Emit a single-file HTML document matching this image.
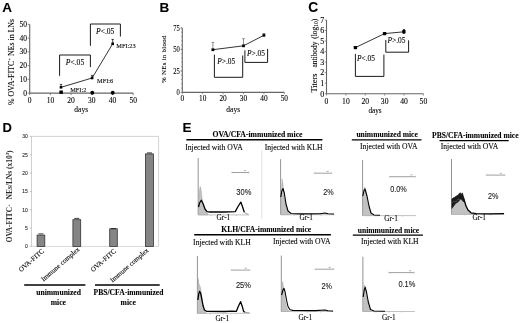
<!DOCTYPE html>
<html><head><meta charset="utf-8"><style>
html,body{margin:0;padding:0;background:#fff;}
svg{display:block;will-change:transform;}
text{stroke:#000;stroke-width:0.15px;stroke-opacity:0.6;}
</style></head><body>
<svg width="520" height="323" viewBox="0 0 520 323">
<rect width="520" height="323" fill="#fff"/>
<text x="2.20" y="12.20" font-family="&quot;Liberation Sans&quot;, sans-serif" font-size="13.5" text-anchor="start" fill="#000" font-weight="bold">A</text>
<line x1="29.70" y1="93.60" x2="29.70" y2="24.30" stroke="#666" stroke-width="1.1"/>
<line x1="29.70" y1="93.10" x2="133.20" y2="93.10" stroke="#666" stroke-width="1.1"/>
<line x1="27.70" y1="93.10" x2="29.70" y2="93.10" stroke="#666" stroke-width="0.8"/>
<text x="27.00" y="95.70" font-family="&quot;Liberation Serif&quot;, serif" font-size="7.5" text-anchor="end" fill="#000">0</text>
<line x1="29.70" y1="93.10" x2="29.70" y2="95.10" stroke="#666" stroke-width="0.8"/>
<text x="29.70" y="102.90" font-family="&quot;Liberation Serif&quot;, serif" font-size="7.5" text-anchor="middle" fill="#000">0</text>
<line x1="27.70" y1="79.34" x2="29.70" y2="79.34" stroke="#666" stroke-width="0.8"/>
<text x="27.00" y="81.94" font-family="&quot;Liberation Serif&quot;, serif" font-size="7.5" text-anchor="end" fill="#000">10</text>
<line x1="50.40" y1="93.10" x2="50.40" y2="95.10" stroke="#666" stroke-width="0.8"/>
<text x="50.40" y="102.90" font-family="&quot;Liberation Serif&quot;, serif" font-size="7.5" text-anchor="middle" fill="#000">10</text>
<line x1="27.70" y1="65.58" x2="29.70" y2="65.58" stroke="#666" stroke-width="0.8"/>
<text x="27.00" y="68.18" font-family="&quot;Liberation Serif&quot;, serif" font-size="7.5" text-anchor="end" fill="#000">20</text>
<line x1="71.10" y1="93.10" x2="71.10" y2="95.10" stroke="#666" stroke-width="0.8"/>
<text x="71.10" y="102.90" font-family="&quot;Liberation Serif&quot;, serif" font-size="7.5" text-anchor="middle" fill="#000">20</text>
<line x1="27.70" y1="51.82" x2="29.70" y2="51.82" stroke="#666" stroke-width="0.8"/>
<text x="27.00" y="54.42" font-family="&quot;Liberation Serif&quot;, serif" font-size="7.5" text-anchor="end" fill="#000">30</text>
<line x1="91.80" y1="93.10" x2="91.80" y2="95.10" stroke="#666" stroke-width="0.8"/>
<text x="91.80" y="102.90" font-family="&quot;Liberation Serif&quot;, serif" font-size="7.5" text-anchor="middle" fill="#000">30</text>
<line x1="27.70" y1="38.06" x2="29.70" y2="38.06" stroke="#666" stroke-width="0.8"/>
<text x="27.00" y="40.66" font-family="&quot;Liberation Serif&quot;, serif" font-size="7.5" text-anchor="end" fill="#000">40</text>
<line x1="112.50" y1="93.10" x2="112.50" y2="95.10" stroke="#666" stroke-width="0.8"/>
<text x="112.50" y="102.90" font-family="&quot;Liberation Serif&quot;, serif" font-size="7.5" text-anchor="middle" fill="#000">40</text>
<line x1="27.70" y1="24.30" x2="29.70" y2="24.30" stroke="#666" stroke-width="0.8"/>
<text x="27.00" y="26.90" font-family="&quot;Liberation Serif&quot;, serif" font-size="7.5" text-anchor="end" fill="#000">50</text>
<line x1="133.20" y1="93.10" x2="133.20" y2="95.10" stroke="#666" stroke-width="0.8"/>
<text x="133.20" y="102.90" font-family="&quot;Liberation Serif&quot;, serif" font-size="7.5" text-anchor="middle" fill="#000">50</text>
<text x="81.20" y="112.30" font-family="&quot;Liberation Serif&quot;, serif" font-size="7.5" text-anchor="middle" fill="#000">days</text>
<text transform="translate(14,105.1) rotate(-90)" font-family="&quot;Liberation Serif&quot;, serif" font-size="7.9" textLength="86.2" lengthAdjust="spacingAndGlyphs">% OVA-FITC<tspan dy="-2.8" font-size="5">+</tspan><tspan dy="2.8"> NEs in LNs</tspan></text>
<path d="M61.0,87.3 L92.1,78.0 L112.7,43.8" stroke="#000" stroke-width="0.8" fill="none"/>
<rect x="59.7" y="86.0" width="2.6" height="2.6" fill="#000"/>
<line x1="61.00" y1="87.30" x2="61.00" y2="84.40" stroke="#000" stroke-width="0.7"/>
<line x1="59.80" y1="84.40" x2="62.20" y2="84.40" stroke="#000" stroke-width="0.7"/>
<rect x="90.8" y="76.7" width="2.6" height="2.6" fill="#000"/>
<line x1="92.10" y1="78.00" x2="92.10" y2="75.40" stroke="#000" stroke-width="0.7"/>
<line x1="90.90" y1="75.40" x2="93.30" y2="75.40" stroke="#000" stroke-width="0.7"/>
<rect x="111.4" y="42.5" width="2.6" height="2.6" fill="#000"/>
<line x1="112.70" y1="43.80" x2="112.70" y2="39.40" stroke="#000" stroke-width="0.7"/>
<line x1="111.50" y1="39.40" x2="113.90" y2="39.40" stroke="#000" stroke-width="0.7"/>
<rect x="59.4" y="90.5" width="3.5" height="3.4" fill="#000"/>
<circle cx="92.3" cy="92.8" r="1.95" fill="#000"/>
<circle cx="112.7" cy="92.8" r="1.95" fill="#000"/>
<text x="70.20" y="91.60" font-family="&quot;Liberation Serif&quot;, serif" font-size="6.3" text-anchor="start" fill="#000">MFI:2</text>
<text x="97.10" y="82.60" font-family="&quot;Liberation Serif&quot;, serif" font-size="6.3" text-anchor="start" fill="#000">MFI:6</text>
<text x="116.30" y="48.20" font-family="&quot;Liberation Serif&quot;, serif" font-size="6.3" text-anchor="start" fill="#000">MFI:23</text>
<path d="M90.4,45.8 V24 H120.4 V36.5" stroke="#000" stroke-width="0.9" fill="none"/>
<text x="105.2" y="34.4" font-family="&quot;Liberation Serif&quot;, serif" font-size="7.6" text-anchor="middle"><tspan font-style="italic">P</tspan>&lt;.05</text>
<path d="M59.6,75.8 V55 H90.4 V67.1" stroke="#000" stroke-width="0.9" fill="none"/>
<text x="75" y="65" font-family="&quot;Liberation Serif&quot;, serif" font-size="7.6" text-anchor="middle"><tspan font-style="italic">P</tspan>&lt;.05</text>
<text x="159.40" y="12.10" font-family="&quot;Liberation Sans&quot;, sans-serif" font-size="13.5" text-anchor="start" fill="#000" font-weight="bold">B</text>
<line x1="182.30" y1="92.40" x2="182.30" y2="27.90" stroke="#666" stroke-width="1.1"/>
<line x1="182.30" y1="92.40" x2="284.30" y2="92.40" stroke="#666" stroke-width="1.1"/>
<line x1="181.10" y1="88.10" x2="182.30" y2="88.10" stroke="#666" stroke-width="0.6"/>
<line x1="181.10" y1="83.80" x2="182.30" y2="83.80" stroke="#666" stroke-width="0.6"/>
<line x1="181.10" y1="79.50" x2="182.30" y2="79.50" stroke="#666" stroke-width="0.6"/>
<line x1="181.10" y1="75.20" x2="182.30" y2="75.20" stroke="#666" stroke-width="0.6"/>
<line x1="181.10" y1="70.90" x2="182.30" y2="70.90" stroke="#666" stroke-width="0.6"/>
<line x1="181.10" y1="66.60" x2="182.30" y2="66.60" stroke="#666" stroke-width="0.6"/>
<line x1="181.10" y1="62.30" x2="182.30" y2="62.30" stroke="#666" stroke-width="0.6"/>
<line x1="181.10" y1="58.00" x2="182.30" y2="58.00" stroke="#666" stroke-width="0.6"/>
<line x1="181.10" y1="53.70" x2="182.30" y2="53.70" stroke="#666" stroke-width="0.6"/>
<line x1="181.10" y1="49.40" x2="182.30" y2="49.40" stroke="#666" stroke-width="0.6"/>
<line x1="181.10" y1="45.10" x2="182.30" y2="45.10" stroke="#666" stroke-width="0.6"/>
<line x1="181.10" y1="40.80" x2="182.30" y2="40.80" stroke="#666" stroke-width="0.6"/>
<line x1="181.10" y1="36.50" x2="182.30" y2="36.50" stroke="#666" stroke-width="0.6"/>
<line x1="181.10" y1="32.20" x2="182.30" y2="32.20" stroke="#666" stroke-width="0.6"/>
<line x1="181.10" y1="27.90" x2="182.30" y2="27.90" stroke="#666" stroke-width="0.6"/>
<line x1="180.50" y1="92.40" x2="182.30" y2="92.40" stroke="#666" stroke-width="0.7"/>
<text x="179.8" y="95.0" font-family="&quot;Liberation Serif&quot;, serif" font-size="7.8" text-anchor="end" textLength="3.3" lengthAdjust="spacingAndGlyphs">0</text>
<line x1="180.50" y1="70.90" x2="182.30" y2="70.90" stroke="#666" stroke-width="0.7"/>
<text x="179.8" y="73.5" font-family="&quot;Liberation Serif&quot;, serif" font-size="7.8" text-anchor="end" textLength="6.6" lengthAdjust="spacingAndGlyphs">25</text>
<line x1="180.50" y1="49.40" x2="182.30" y2="49.40" stroke="#666" stroke-width="0.7"/>
<text x="179.8" y="52.0" font-family="&quot;Liberation Serif&quot;, serif" font-size="7.8" text-anchor="end" textLength="6.6" lengthAdjust="spacingAndGlyphs">50</text>
<line x1="180.50" y1="27.90" x2="182.30" y2="27.90" stroke="#666" stroke-width="0.7"/>
<text x="179.8" y="30.5" font-family="&quot;Liberation Serif&quot;, serif" font-size="7.8" text-anchor="end" textLength="6.6" lengthAdjust="spacingAndGlyphs">75</text>
<line x1="182.30" y1="92.40" x2="182.30" y2="94.20" stroke="#666" stroke-width="0.7"/>
<text x="182.30" y="101.20" font-family="&quot;Liberation Serif&quot;, serif" font-size="7.3" text-anchor="middle" fill="#000">0</text>
<line x1="202.70" y1="92.40" x2="202.70" y2="94.20" stroke="#666" stroke-width="0.7"/>
<text x="202.70" y="101.20" font-family="&quot;Liberation Serif&quot;, serif" font-size="7.3" text-anchor="middle" fill="#000">10</text>
<line x1="223.10" y1="92.40" x2="223.10" y2="94.20" stroke="#666" stroke-width="0.7"/>
<text x="223.10" y="101.20" font-family="&quot;Liberation Serif&quot;, serif" font-size="7.3" text-anchor="middle" fill="#000">20</text>
<line x1="243.50" y1="92.40" x2="243.50" y2="94.20" stroke="#666" stroke-width="0.7"/>
<text x="243.50" y="101.20" font-family="&quot;Liberation Serif&quot;, serif" font-size="7.3" text-anchor="middle" fill="#000">30</text>
<line x1="263.90" y1="92.40" x2="263.90" y2="94.20" stroke="#666" stroke-width="0.7"/>
<text x="263.90" y="101.20" font-family="&quot;Liberation Serif&quot;, serif" font-size="7.3" text-anchor="middle" fill="#000">40</text>
<line x1="284.30" y1="92.40" x2="284.30" y2="94.20" stroke="#666" stroke-width="0.7"/>
<text x="284.30" y="101.20" font-family="&quot;Liberation Serif&quot;, serif" font-size="7.3" text-anchor="middle" fill="#000">50</text>
<text x="233.20" y="111.90" font-family="&quot;Liberation Serif&quot;, serif" font-size="7.5" text-anchor="middle" fill="#000">days</text>
<text transform="translate(166.1,83.0) rotate(-90)" font-family="&quot;Liberation Serif&quot;, serif" font-size="6.9" textLength="47.4" lengthAdjust="spacing">% NEs in blood</text>
<path d="M212.9,49.7 L243.5,45.8 L263.9,35.3" stroke="#000" stroke-width="0.8" fill="none"/>
<rect x="211.5" y="48.3" width="2.8" height="2.8" fill="#000"/>
<line x1="212.90" y1="49.70" x2="212.90" y2="42.40" stroke="#444" stroke-width="0.6"/>
<line x1="211.60" y1="42.40" x2="214.20" y2="42.40" stroke="#444" stroke-width="0.6"/>
<rect x="242.1" y="44.4" width="2.8" height="2.8" fill="#000"/>
<line x1="243.50" y1="45.80" x2="243.50" y2="38.70" stroke="#444" stroke-width="0.6"/>
<line x1="242.20" y1="38.70" x2="244.80" y2="38.70" stroke="#444" stroke-width="0.6"/>
<rect x="262.5" y="33.9" width="2.8" height="2.8" fill="#000"/>
<line x1="263.90" y1="35.30" x2="263.90" y2="33.50" stroke="#444" stroke-width="0.6"/>
<line x1="262.60" y1="33.50" x2="265.20" y2="33.50" stroke="#444" stroke-width="0.6"/>
<path d="M214.4,54.7 V77.3 H242.7 V55.5" stroke="#000" stroke-width="0.9" fill="none"/>
<text x="226.3" y="64.2" font-family="&quot;Liberation Serif&quot;, serif" font-size="7.4" text-anchor="middle"><tspan font-style="italic">P</tspan>&gt;.05</text>
<path d="M244.9,50.3 V62.4 H267.6 V48.9" stroke="#000" stroke-width="0.9" fill="none"/>
<text x="256" y="55.8" font-family="&quot;Liberation Serif&quot;, serif" font-size="7.4" text-anchor="middle"><tspan font-style="italic">P</tspan>&gt;.05</text>
<text x="308.30" y="12.30" font-family="&quot;Liberation Sans&quot;, sans-serif" font-size="13.8" text-anchor="start" fill="#000" font-weight="bold">C</text>
<line x1="326.50" y1="93.75" x2="326.50" y2="20.00" stroke="#666" stroke-width="1.1"/>
<line x1="326.50" y1="93.75" x2="423.40" y2="93.75" stroke="#666" stroke-width="1.1"/>
<line x1="324.70" y1="93.75" x2="326.50" y2="93.75" stroke="#666" stroke-width="0.7"/>
<text x="324.30" y="96.55" font-family="&quot;Liberation Serif&quot;, serif" font-size="8.0" text-anchor="end" fill="#000">0</text>
<line x1="324.70" y1="83.21" x2="326.50" y2="83.21" stroke="#666" stroke-width="0.7"/>
<text x="324.30" y="86.01" font-family="&quot;Liberation Serif&quot;, serif" font-size="8.0" text-anchor="end" fill="#000">1</text>
<line x1="324.70" y1="72.68" x2="326.50" y2="72.68" stroke="#666" stroke-width="0.7"/>
<text x="324.30" y="75.48" font-family="&quot;Liberation Serif&quot;, serif" font-size="8.0" text-anchor="end" fill="#000">2</text>
<line x1="324.70" y1="62.14" x2="326.50" y2="62.14" stroke="#666" stroke-width="0.7"/>
<text x="324.30" y="64.94" font-family="&quot;Liberation Serif&quot;, serif" font-size="8.0" text-anchor="end" fill="#000">3</text>
<line x1="324.70" y1="51.61" x2="326.50" y2="51.61" stroke="#666" stroke-width="0.7"/>
<text x="324.30" y="54.41" font-family="&quot;Liberation Serif&quot;, serif" font-size="8.0" text-anchor="end" fill="#000">4</text>
<line x1="324.70" y1="41.07" x2="326.50" y2="41.07" stroke="#666" stroke-width="0.7"/>
<text x="324.30" y="43.87" font-family="&quot;Liberation Serif&quot;, serif" font-size="8.0" text-anchor="end" fill="#000">5</text>
<line x1="324.70" y1="30.54" x2="326.50" y2="30.54" stroke="#666" stroke-width="0.7"/>
<text x="324.30" y="33.34" font-family="&quot;Liberation Serif&quot;, serif" font-size="8.0" text-anchor="end" fill="#000">6</text>
<line x1="324.70" y1="20.00" x2="326.50" y2="20.00" stroke="#666" stroke-width="0.7"/>
<text x="324.30" y="22.80" font-family="&quot;Liberation Serif&quot;, serif" font-size="8.0" text-anchor="end" fill="#000">7</text>
<line x1="326.50" y1="93.75" x2="326.50" y2="95.55" stroke="#666" stroke-width="0.7"/>
<text x="326.50" y="104.00" font-family="&quot;Liberation Serif&quot;, serif" font-size="7.6" text-anchor="middle" fill="#000">0</text>
<line x1="345.88" y1="93.75" x2="345.88" y2="95.55" stroke="#666" stroke-width="0.7"/>
<text x="345.88" y="104.00" font-family="&quot;Liberation Serif&quot;, serif" font-size="7.6" text-anchor="middle" fill="#000">10</text>
<line x1="365.26" y1="93.75" x2="365.26" y2="95.55" stroke="#666" stroke-width="0.7"/>
<text x="365.26" y="104.00" font-family="&quot;Liberation Serif&quot;, serif" font-size="7.6" text-anchor="middle" fill="#000">20</text>
<line x1="384.64" y1="93.75" x2="384.64" y2="95.55" stroke="#666" stroke-width="0.7"/>
<text x="384.64" y="104.00" font-family="&quot;Liberation Serif&quot;, serif" font-size="7.6" text-anchor="middle" fill="#000">30</text>
<line x1="404.02" y1="93.75" x2="404.02" y2="95.55" stroke="#666" stroke-width="0.7"/>
<text x="404.02" y="104.00" font-family="&quot;Liberation Serif&quot;, serif" font-size="7.6" text-anchor="middle" fill="#000">40</text>
<line x1="423.40" y1="93.75" x2="423.40" y2="95.55" stroke="#666" stroke-width="0.7"/>
<text x="423.40" y="104.00" font-family="&quot;Liberation Serif&quot;, serif" font-size="7.6" text-anchor="middle" fill="#000">50</text>
<text x="375.00" y="113.00" font-family="&quot;Liberation Serif&quot;, serif" font-size="7.2" text-anchor="middle" fill="#000">days</text>
<text transform="translate(316.6,92.5) rotate(-90)" font-family="&quot;Liberation Serif&quot;, serif" font-size="7.6" textLength="19" lengthAdjust="spacingAndGlyphs">Titers</text>
<text transform="translate(316.6,67.5) rotate(-90)" font-family="&quot;Liberation Serif&quot;, serif" font-size="7.4" textLength="26" lengthAdjust="spacingAndGlyphs">antibody</text>
<text transform="translate(316.6,38.8) rotate(-90)" font-family="&quot;Liberation Serif&quot;, serif" font-size="7.4">(log<tspan dy="1.2" font-size="5.6">10</tspan><tspan dy="-1.2">)</tspan></text>
<path d="M355.4,47.6 L384.6,33.6 L403.9,31.8" stroke="#000" stroke-width="0.8" fill="none"/>
<rect x="353.7" y="45.9" width="3.4" height="3.4" rx="0.7" fill="#000"/>
<rect x="382.9" y="31.9" width="3.4" height="3.4" rx="0.7" fill="#000"/>
<rect x="402.2" y="30.1" width="3.4" height="3.4" rx="0.7" fill="#000"/>
<line x1="403.90" y1="29.40" x2="403.90" y2="34.00" stroke="#000" stroke-width="1.0"/>
<line x1="402.90" y1="29.60" x2="404.90" y2="29.60" stroke="#000" stroke-width="0.7"/>
<path d="M385.8,39.9 V52.2 H408.6 V40.3" stroke="#000" stroke-width="0.9" fill="none"/>
<text x="396.5" y="43.4" font-family="&quot;Liberation Serif&quot;, serif" font-size="7.4" text-anchor="middle"><tspan font-style="italic">P</tspan>&gt;.05</text>
<path d="M355.4,53.9 V76.4 H383.9 V54.6" stroke="#000" stroke-width="0.9" fill="none"/>
<text x="366" y="61.4" font-family="&quot;Liberation Serif&quot;, serif" font-size="7.4" text-anchor="middle"><tspan font-style="italic">P</tspan>&lt;.05</text>
<text x="2.50" y="132.10" font-family="&quot;Liberation Sans&quot;, sans-serif" font-size="13" text-anchor="start" fill="#000" font-weight="bold">D</text>
<line x1="31.50" y1="136.40" x2="158.60" y2="136.40" stroke="#c8c8c8" stroke-width="0.8"/>
<line x1="158.60" y1="136.40" x2="158.60" y2="246.40" stroke="#c8c8c8" stroke-width="0.8"/>
<line x1="31.50" y1="246.40" x2="158.60" y2="246.40" stroke="#c8c8c8" stroke-width="0.7"/>
<line x1="31.50" y1="136.40" x2="31.50" y2="246.40" stroke="#c4c4c4" stroke-width="0.8"/>
<line x1="29.80" y1="246.40" x2="31.50" y2="246.40" stroke="#999" stroke-width="0.6"/>
<text x="27.90" y="248.20" font-family="&quot;Liberation Sans&quot;, sans-serif" font-size="5.0" text-anchor="end" fill="#333">0</text>
<line x1="29.80" y1="228.07" x2="31.50" y2="228.07" stroke="#999" stroke-width="0.6"/>
<text x="27.90" y="229.87" font-family="&quot;Liberation Sans&quot;, sans-serif" font-size="5.0" text-anchor="end" fill="#333">5</text>
<line x1="29.80" y1="209.73" x2="31.50" y2="209.73" stroke="#999" stroke-width="0.6"/>
<text x="27.90" y="211.53" font-family="&quot;Liberation Sans&quot;, sans-serif" font-size="5.0" text-anchor="end" fill="#333">10</text>
<line x1="29.80" y1="191.40" x2="31.50" y2="191.40" stroke="#999" stroke-width="0.6"/>
<text x="27.90" y="193.20" font-family="&quot;Liberation Sans&quot;, sans-serif" font-size="5.0" text-anchor="end" fill="#333">15</text>
<line x1="29.80" y1="173.07" x2="31.50" y2="173.07" stroke="#999" stroke-width="0.6"/>
<text x="27.90" y="174.87" font-family="&quot;Liberation Sans&quot;, sans-serif" font-size="5.0" text-anchor="end" fill="#333">20</text>
<line x1="29.80" y1="154.73" x2="31.50" y2="154.73" stroke="#999" stroke-width="0.6"/>
<text x="27.90" y="156.53" font-family="&quot;Liberation Sans&quot;, sans-serif" font-size="5.0" text-anchor="end" fill="#333">25</text>
<line x1="29.80" y1="136.40" x2="31.50" y2="136.40" stroke="#999" stroke-width="0.6"/>
<text x="27.90" y="138.20" font-family="&quot;Liberation Sans&quot;, sans-serif" font-size="5.0" text-anchor="end" fill="#333">30</text>
<rect x="37.1" y="235.1" width="7.7" height="11.3" fill="#858585" stroke="#333" stroke-width="0.8"/>
<line x1="38.45" y1="233.90" x2="43.45" y2="233.90" stroke="#111" stroke-width="0.8"/>
<rect x="72.9" y="219.7" width="7.8" height="26.7" fill="#858585" stroke="#333" stroke-width="0.8"/>
<line x1="74.30" y1="218.40" x2="79.30" y2="218.40" stroke="#111" stroke-width="0.8"/>
<rect x="109.7" y="228.8" width="7.6" height="17.6" fill="#858585" stroke="#333" stroke-width="0.8"/>
<line x1="111.00" y1="228.60" x2="116.00" y2="228.60" stroke="#111" stroke-width="0.8"/>
<rect x="145.5" y="153.9" width="7.9" height="92.5" fill="#858585" stroke="#333" stroke-width="0.8"/>
<line x1="146.95" y1="152.90" x2="151.95" y2="152.90" stroke="#111" stroke-width="0.8"/>
<text transform="translate(44.6,251.8) rotate(-41)" font-family="&quot;Liberation Serif&quot;, serif" font-size="6.9" text-anchor="end">OVA-FITC</text>
<text transform="translate(80.1,250.0) rotate(-41)" font-family="&quot;Liberation Serif&quot;, serif" font-size="6.9" text-anchor="end">Immune complex</text>
<text transform="translate(116.6,251.8) rotate(-41)" font-family="&quot;Liberation Serif&quot;, serif" font-size="6.9" text-anchor="end">OVA-FITC</text>
<text transform="translate(149.1,250.9) rotate(-41)" font-family="&quot;Liberation Serif&quot;, serif" font-size="6.9" text-anchor="end">Immune complex</text>
<line x1="24.20" y1="285.00" x2="85.40" y2="285.00" stroke="#000" stroke-width="1.7"/>
<line x1="95.00" y1="285.00" x2="159.70" y2="285.00" stroke="#000" stroke-width="1.7"/>
<text x="58.60" y="295.40" font-family="&quot;Liberation Serif&quot;, serif" font-size="7.6" text-anchor="middle" fill="#000" font-weight="bold">unimmunized</text>
<text x="58.40" y="304.70" font-family="&quot;Liberation Serif&quot;, serif" font-size="7.6" text-anchor="middle" fill="#000" font-weight="bold">mice</text>
<text x="128.50" y="295.40" font-family="&quot;Liberation Serif&quot;, serif" font-size="7.6" text-anchor="middle" fill="#000" font-weight="bold">PBS/CFA-immunized</text>
<text x="128.20" y="304.70" font-family="&quot;Liberation Serif&quot;, serif" font-size="7.6" text-anchor="middle" fill="#000" font-weight="bold">mice</text>
<text transform="translate(12.3,242.2) rotate(-90)" font-family="&quot;Liberation Serif&quot;, serif" font-size="7.3" font-weight="bold" fill="#2a2a2a" style="stroke:none">OVA-FITC<tspan dy="-2.8" font-size="4.8">+</tspan></text>
<text transform="translate(12.0,199.4) rotate(-90)" font-family="&quot;Liberation Serif&quot;, serif" font-size="7.3" font-weight="bold" fill="#2a2a2a" style="stroke:none" textLength="49" lengthAdjust="spacingAndGlyphs">NEs/LNs (x10<tspan dy="-2.8" font-size="4.8">3</tspan><tspan dy="2.8">)</tspan></text>
<text x="182.60" y="132.40" font-family="&quot;Liberation Sans&quot;, sans-serif" font-size="13.5" text-anchor="start" fill="#000" font-weight="bold">E</text>
<text x="257.45" y="137.30" font-family="&quot;Liberation Serif&quot;, serif" font-size="7.7" text-anchor="middle" fill="#000" font-weight="bold">OVA/CFA-immunized mice</text>
<line x1="186.40" y1="139.80" x2="322.40" y2="139.80" stroke="#000" stroke-width="1.4"/>
<text x="387.10" y="137.00" font-family="&quot;Liberation Serif&quot;, serif" font-size="7.55" text-anchor="middle" fill="#000" font-weight="bold">unimmunized mice</text>
<line x1="351.80" y1="139.90" x2="421.50" y2="139.90" stroke="#000" stroke-width="1.4"/>
<text x="475.30" y="137.50" font-family="&quot;Liberation Serif&quot;, serif" font-size="7.55" text-anchor="middle" fill="#000" font-weight="bold">PBS/CFA-immunized mice</text>
<line x1="439.50" y1="140.60" x2="508.70" y2="140.60" stroke="#000" stroke-width="1.4"/>
<text x="185.20" y="149.60" font-family="&quot;Liberation Serif&quot;, serif" font-size="7.65" text-anchor="start" fill="#000">Injected with OVA</text>
<text x="264.70" y="149.50" font-family="&quot;Liberation Serif&quot;, serif" font-size="7.65" text-anchor="start" fill="#000">Injected with KLH</text>
<text x="360.00" y="148.80" font-family="&quot;Liberation Serif&quot;, serif" font-size="7.65" text-anchor="start" fill="#000">Injected with OVA</text>
<text x="440.70" y="149.20" font-family="&quot;Liberation Serif&quot;, serif" font-size="7.65" text-anchor="start" fill="#000">Injected with OVA</text>
<text x="266.20" y="232.30" font-family="&quot;Liberation Serif&quot;, serif" font-size="7.6" text-anchor="middle" fill="#000" font-weight="bold">KLH/CFA-immunized mice</text>
<line x1="194.20" y1="234.80" x2="330.90" y2="234.80" stroke="#000" stroke-width="1.4"/>
<text x="388.50" y="232.50" font-family="&quot;Liberation Serif&quot;, serif" font-size="7.55" text-anchor="middle" fill="#000" font-weight="bold">unimmunized mice</text>
<line x1="352.80" y1="235.10" x2="422.90" y2="235.10" stroke="#000" stroke-width="1.4"/>
<text x="193.10" y="244.60" font-family="&quot;Liberation Serif&quot;, serif" font-size="7.65" text-anchor="start" fill="#000">Injected with KLH</text>
<text x="273.00" y="243.70" font-family="&quot;Liberation Serif&quot;, serif" font-size="7.65" text-anchor="start" fill="#000">Injected with OVA</text>
<text x="360.90" y="243.70" font-family="&quot;Liberation Serif&quot;, serif" font-size="7.65" text-anchor="start" fill="#000">Injected with KLH</text>
<line x1="261.80" y1="150.50" x2="261.80" y2="219.00" stroke="#cfcfcf" stroke-width="0.6"/>
<line x1="198.20" y1="158.00" x2="198.20" y2="214.90" stroke="#777" stroke-width="0.8"/>
<line x1="198.20" y1="214.90" x2="249.00" y2="214.90" stroke="#999" stroke-width="0.6"/>
<line x1="210.90" y1="214.90" x2="210.90" y2="216.10" stroke="#aaa" stroke-width="0.5"/>
<line x1="223.60" y1="214.90" x2="223.60" y2="216.10" stroke="#aaa" stroke-width="0.5"/>
<line x1="236.30" y1="214.90" x2="236.30" y2="216.10" stroke="#aaa" stroke-width="0.5"/>
<path d="M198.3,214.9 L198.6,200 L199.5,190 L200.3,186.5 L201.2,190 L202.3,200 L204,208 L206,212 L208,214 L208,214.9 Z" stroke="#999" stroke-width="0.4" fill="#c2c2c2"/>
<path d="M198.5,207 L199.5,203 L201.3,200.3 L203,203.5 L205,209 L207,211.6 L210,212 L225,212 L235.3,211.6 L238,206.5 L240.9,202.1 L242.6,207 L244.3,212.3" stroke="#000" stroke-width="1.3" fill="none" stroke-linejoin="round"/>
<line x1="231.90" y1="172.50" x2="249.00" y2="172.50" stroke="#777" stroke-width="0.7"/>
<line x1="231.90" y1="171.50" x2="231.90" y2="173.50" stroke="#aaa" stroke-width="0.5"/>
<line x1="249.00" y1="171.50" x2="249.00" y2="173.50" stroke="#aaa" stroke-width="0.5"/>
<line x1="244.00" y1="170.70" x2="246.00" y2="170.70" stroke="#777" stroke-width="0.6"/>
<text x="236.3" y="195.10000000000002" font-family="&quot;Liberation Sans&quot;, sans-serif" font-size="9.2" textLength="15.0" lengthAdjust="spacingAndGlyphs" fill="#1a1a1a" stroke="#1a1a1a" stroke-width="0.2">30%</text>
<text x="223.40" y="219.80" font-family="&quot;Liberation Serif&quot;, serif" font-size="7.3" text-anchor="middle" fill="#000">Gr-1</text>
<path d="M244,212.3 L248.5,214.6" stroke="#888" stroke-width="0.8" fill="none"/>
<line x1="280.60" y1="159.20" x2="280.60" y2="214.70" stroke="#777" stroke-width="0.8"/>
<line x1="280.60" y1="214.70" x2="334.60" y2="214.70" stroke="#999" stroke-width="0.6"/>
<line x1="294.10" y1="214.70" x2="294.10" y2="215.90" stroke="#aaa" stroke-width="0.5"/>
<line x1="307.60" y1="214.70" x2="307.60" y2="215.90" stroke="#aaa" stroke-width="0.5"/>
<line x1="321.10" y1="214.70" x2="321.10" y2="215.90" stroke="#aaa" stroke-width="0.5"/>
<path d="M280.7,214.7 L281.2,195 L282,179 L283,184 L284,196 L286,207 L288,212.5 L290,214.7 Z" stroke="#999" stroke-width="0.4" fill="#c2c2c2"/>
<path d="M280.8,197 L281.8,191 L283,188.5 L284.3,193 L286,204 L288,211 L291,213.5 L300,213.9 L320,213.8 L325,213 L328,213.8 L334,214" stroke="#000" stroke-width="1.1" fill="none" stroke-linejoin="round"/>
<line x1="314.30" y1="173.20" x2="331.60" y2="173.20" stroke="#777" stroke-width="0.7"/>
<line x1="314.30" y1="172.20" x2="314.30" y2="174.20" stroke="#aaa" stroke-width="0.5"/>
<line x1="331.60" y1="172.20" x2="331.60" y2="174.20" stroke="#aaa" stroke-width="0.5"/>
<line x1="326.60" y1="171.40" x2="328.60" y2="171.40" stroke="#777" stroke-width="0.6"/>
<text x="323.2" y="194.9" font-family="&quot;Liberation Sans&quot;, sans-serif" font-size="9.2" textLength="10.4" lengthAdjust="spacingAndGlyphs" fill="#1a1a1a" stroke="#1a1a1a" stroke-width="0.2">2%</text>
<text x="306.20" y="220.10" font-family="&quot;Liberation Serif&quot;, serif" font-size="7.3" text-anchor="middle" fill="#000">Gr-1</text>
<line x1="362.60" y1="160.00" x2="362.60" y2="215.60" stroke="#777" stroke-width="0.8"/>
<line x1="362.60" y1="215.60" x2="416.00" y2="215.60" stroke="#999" stroke-width="0.6"/>
<line x1="375.95" y1="215.60" x2="375.95" y2="216.80" stroke="#aaa" stroke-width="0.5"/>
<line x1="389.30" y1="215.60" x2="389.30" y2="216.80" stroke="#aaa" stroke-width="0.5"/>
<line x1="402.65" y1="215.60" x2="402.65" y2="216.80" stroke="#aaa" stroke-width="0.5"/>
<path d="M362.7,215.6 L363,200 L364,188 L365,187.2 L366.5,195 L368,205 L370,212 L372,215.6 Z" stroke="#999" stroke-width="0.4" fill="#c2c2c2"/>
<path d="M362.8,196 L364,190.5 L365.0,189.0 L367,196 L369,206 L371,213 L374,215 L380,215.3" stroke="#000" stroke-width="1.1" fill="none" stroke-linejoin="round"/>
<line x1="389.60" y1="176.70" x2="415.40" y2="176.70" stroke="#777" stroke-width="0.7"/>
<line x1="389.60" y1="175.70" x2="389.60" y2="177.70" stroke="#aaa" stroke-width="0.5"/>
<line x1="415.40" y1="175.70" x2="415.40" y2="177.70" stroke="#aaa" stroke-width="0.5"/>
<line x1="410.40" y1="174.90" x2="412.40" y2="174.90" stroke="#777" stroke-width="0.6"/>
<text x="390.2" y="192.0" font-family="&quot;Liberation Sans&quot;, sans-serif" font-size="9.2" textLength="16.6" lengthAdjust="spacingAndGlyphs" fill="#1a1a1a" stroke="#1a1a1a" stroke-width="0.2">0.0%</text>
<text x="391.00" y="221.30" font-family="&quot;Liberation Serif&quot;, serif" font-size="7.3" text-anchor="middle" fill="#000">Gr-1</text>
<line x1="451.50" y1="159.00" x2="451.50" y2="214.30" stroke="#777" stroke-width="0.8"/>
<line x1="451.50" y1="214.30" x2="504.40" y2="214.30" stroke="#999" stroke-width="0.6"/>
<line x1="464.73" y1="214.30" x2="464.73" y2="215.50" stroke="#aaa" stroke-width="0.5"/>
<line x1="477.95" y1="214.30" x2="477.95" y2="215.50" stroke="#aaa" stroke-width="0.5"/>
<line x1="491.17" y1="214.30" x2="491.17" y2="215.50" stroke="#aaa" stroke-width="0.5"/>
<path d="M451.6,214.3 L451.8,200 L454,197 L456,196.5 L458,194.5 L460.2,192.7 L461.5,194 L462.5,193 L464,199 L466,206 L468,210.5 L470,213 L473,214.3 Z" stroke="#999" stroke-width="0.4" fill="#c2c2c2"/>
<path d="M463,197 L464.5,201 L466,206 L468,210 L471,212.8 L476,213.7 L490,213.9 L504,213.6" stroke="#000" stroke-width="1.3" fill="none" stroke-linejoin="round"/>
<line x1="486.30" y1="175.10" x2="504.80" y2="175.10" stroke="#777" stroke-width="0.7"/>
<line x1="486.30" y1="174.10" x2="486.30" y2="176.10" stroke="#aaa" stroke-width="0.5"/>
<line x1="504.80" y1="174.10" x2="504.80" y2="176.10" stroke="#aaa" stroke-width="0.5"/>
<line x1="499.80" y1="173.30" x2="501.80" y2="173.30" stroke="#777" stroke-width="0.6"/>
<text x="487.9" y="199.0" font-family="&quot;Liberation Sans&quot;, sans-serif" font-size="9.2" textLength="10.4" lengthAdjust="spacingAndGlyphs" fill="#1a1a1a" stroke="#1a1a1a" stroke-width="0.2">2%</text>
<text x="479.20" y="220.40" font-family="&quot;Liberation Serif&quot;, serif" font-size="7.3" text-anchor="middle" fill="#000">Gr-1</text>
<path d="M451.8,199.3 L453,198 L454.5,197.5 L456,196.2 L457.5,195.5 L459,194 L460.2,192.7 L461.2,194.5 L462.3,192.8 L463.3,196 L464.5,201 L463.5,202 L462,200 L460.5,199 L459,201 L457.5,202.5 L456,203 L454.5,205 L453,207 L451.8,208.5 Z" stroke="#111" stroke-width="0.5" fill="#1a1a1a"/>
<path d="M452,203 L454,201 L456,202 L458,199 L460,200" stroke="#666" stroke-width="0.6" fill="none"/>
<line x1="197.40" y1="256.00" x2="197.40" y2="313.30" stroke="#777" stroke-width="0.8"/>
<line x1="197.40" y1="313.30" x2="249.00" y2="313.30" stroke="#999" stroke-width="0.6"/>
<line x1="210.30" y1="313.30" x2="210.30" y2="314.50" stroke="#aaa" stroke-width="0.5"/>
<line x1="223.20" y1="313.30" x2="223.20" y2="314.50" stroke="#aaa" stroke-width="0.5"/>
<line x1="236.10" y1="313.30" x2="236.10" y2="314.50" stroke="#aaa" stroke-width="0.5"/>
<path d="M197.4,313.3 L197.6,290 L198.2,278.5 L198.8,284 L199.5,284.8 L200.6,288 L201.5,295 L202.5,303 L203.8,309 L205.5,312.5 L206.5,313.3 Z" stroke="#999" stroke-width="0.4" fill="#c2c2c2"/>
<path d="M197.9,300 L198.7,294 L199.6,291.3 L200.6,293 L201.8,299 L203,305.5 L204.5,310 L206.5,311.3 L225,311.5 L232,311.1 L236.3,311.4 L238.5,306 L240.6,301.7 L242.3,306.5 L243.6,311.4 L245,312.2" stroke="#000" stroke-width="1.3" fill="none" stroke-linejoin="round"/>
<line x1="231.30" y1="270.10" x2="249.80" y2="270.10" stroke="#777" stroke-width="0.7"/>
<line x1="231.30" y1="269.10" x2="231.30" y2="271.10" stroke="#aaa" stroke-width="0.5"/>
<line x1="249.80" y1="269.10" x2="249.80" y2="271.10" stroke="#aaa" stroke-width="0.5"/>
<line x1="244.80" y1="268.30" x2="246.80" y2="268.30" stroke="#777" stroke-width="0.6"/>
<text x="235.9" y="288.0" font-family="&quot;Liberation Sans&quot;, sans-serif" font-size="9.2" textLength="15.0" lengthAdjust="spacingAndGlyphs" fill="#1a1a1a" stroke="#1a1a1a" stroke-width="0.2">25%</text>
<text x="222.30" y="321.40" font-family="&quot;Liberation Serif&quot;, serif" font-size="7.3" text-anchor="middle" fill="#000">Gr-1</text>
<path d="M244,312 L250,313.2" stroke="#888" stroke-width="0.8" fill="none"/>
<line x1="281.30" y1="255.60" x2="281.30" y2="311.50" stroke="#777" stroke-width="0.8"/>
<line x1="281.30" y1="311.50" x2="333.50" y2="311.50" stroke="#999" stroke-width="0.6"/>
<line x1="294.35" y1="311.50" x2="294.35" y2="312.70" stroke="#aaa" stroke-width="0.5"/>
<line x1="307.40" y1="311.50" x2="307.40" y2="312.70" stroke="#aaa" stroke-width="0.5"/>
<line x1="320.45" y1="311.50" x2="320.45" y2="312.70" stroke="#aaa" stroke-width="0.5"/>
<path d="M281.4,311.5 L281.8,292 L282.7,281.6 L283.6,288 L285,300 L287,308 L289,311.5 Z" stroke="#999" stroke-width="0.4" fill="#c2c2c2"/>
<path d="M281.6,295 L282.8,290.5 L283.9,288.3 L285,291.5 L286.5,300 L288,306.5 L290,309.8 L293,310.4 L315,310.6 L325,310 L328,310.7 L333,311" stroke="#000" stroke-width="1.1" fill="none" stroke-linejoin="round"/>
<line x1="315.20" y1="269.20" x2="333.70" y2="269.20" stroke="#777" stroke-width="0.7"/>
<line x1="315.20" y1="268.20" x2="315.20" y2="270.20" stroke="#aaa" stroke-width="0.5"/>
<line x1="333.70" y1="268.20" x2="333.70" y2="270.20" stroke="#aaa" stroke-width="0.5"/>
<line x1="328.70" y1="267.40" x2="330.70" y2="267.40" stroke="#777" stroke-width="0.6"/>
<text x="321.5" y="289.0" font-family="&quot;Liberation Sans&quot;, sans-serif" font-size="9.2" textLength="10.4" lengthAdjust="spacingAndGlyphs" fill="#1a1a1a" stroke="#1a1a1a" stroke-width="0.2">2%</text>
<text x="305.30" y="320.00" font-family="&quot;Liberation Serif&quot;, serif" font-size="7.3" text-anchor="middle" fill="#000">Gr-1</text>
<line x1="362.90" y1="256.80" x2="362.90" y2="311.50" stroke="#777" stroke-width="0.8"/>
<line x1="362.90" y1="311.50" x2="414.90" y2="311.50" stroke="#999" stroke-width="0.6"/>
<line x1="375.90" y1="311.50" x2="375.90" y2="312.70" stroke="#aaa" stroke-width="0.5"/>
<line x1="388.90" y1="311.50" x2="388.90" y2="312.70" stroke="#aaa" stroke-width="0.5"/>
<line x1="401.90" y1="311.50" x2="401.90" y2="312.70" stroke="#aaa" stroke-width="0.5"/>
<path d="M363,311.5 L363.3,295 L364.2,285 L365.2,286 L366.5,295 L368.5,305 L370.8,311.5 Z" stroke="#999" stroke-width="0.4" fill="#c2c2c2"/>
<path d="M363.2,297 L364.2,290 L365.2,287.3 L366.5,292 L368.3,302 L370.5,309.5 L374,311 L385,311.2" stroke="#000" stroke-width="1.1" fill="none" stroke-linejoin="round"/>
<line x1="388.90" y1="272.60" x2="414.20" y2="272.60" stroke="#777" stroke-width="0.7"/>
<line x1="388.90" y1="271.60" x2="388.90" y2="273.60" stroke="#aaa" stroke-width="0.5"/>
<line x1="414.20" y1="271.60" x2="414.20" y2="273.60" stroke="#aaa" stroke-width="0.5"/>
<line x1="409.20" y1="270.80" x2="411.20" y2="270.80" stroke="#777" stroke-width="0.6"/>
<text x="398.4" y="287.2" font-family="&quot;Liberation Sans&quot;, sans-serif" font-size="9.2" textLength="17.0" lengthAdjust="spacingAndGlyphs" fill="#1a1a1a" stroke="#1a1a1a" stroke-width="0.2">0.1%</text>
<text x="388.90" y="320.00" font-family="&quot;Liberation Serif&quot;, serif" font-size="7.3" text-anchor="middle" fill="#000">Gr-1</text>
</svg>
</body></html>
